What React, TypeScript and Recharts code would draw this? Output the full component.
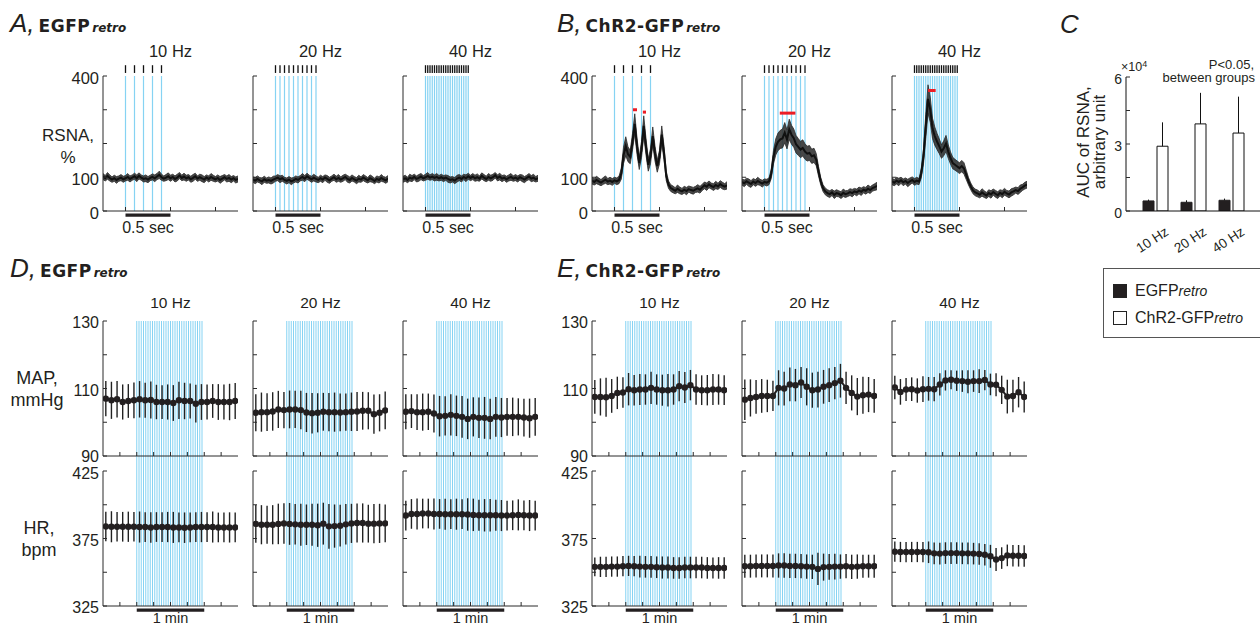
import React from 'react'
import { ComposedChart, BarChart, Bar, Line, Area, XAxis, YAxis, ReferenceLine, ErrorBar } from 'recharts'

const FONT = '"Liberation Sans", Arial, Helvetica, sans-serif'
const HEAD_FONT = '"DejaVu Sans", Verdana, sans-serif'
const INK = '#231f20'
const AXIS = '#2b2b2b'
const BLUE = '#86d3f3'
const RED = '#ec1c24'

const FREQS = ['10 Hz', '20 Hz', '40 Hz']
const GROUPS = ['EGFP', 'ChR2-GFP']

// ---- RSNA (A, B): time in s, values in % of baseline ----
const T_RSNA = [-0.25, -0.225, -0.2, -0.175, -0.15, -0.125, -0.1, -0.075, -0.05, -0.025, 0, 0.025, 0.05, 0.075, 0.1, 0.125, 0.15, 0.175, 0.2, 0.225, 0.25, 0.275, 0.3, 0.325, 0.35, 0.375, 0.4, 0.425, 0.45, 0.475, 0.5, 0.525, 0.55, 0.575, 0.6, 0.625, 0.65, 0.675, 0.7, 0.725, 0.75, 0.775, 0.8, 0.825, 0.85, 0.875, 0.9, 0.925, 0.95, 0.975, 1, 1.025, 1.05, 1.075, 1.1, 1.125, 1.15, 1.175, 1.2, 1.225, 1.25]

const PULSES_10 = [0, 0.1, 0.2, 0.3, 0.4]
const PULSES_20 = [0, 0.05, 0.1, 0.15, 0.2, 0.25, 0.3, 0.35, 0.4, 0.45]
const PULSES_40 = [0, 0.025, 0.05, 0.075, 0.1, 0.125, 0.15, 0.175, 0.2, 0.225, 0.25, 0.275, 0.3, 0.325, 0.35, 0.375, 0.4, 0.425, 0.45, 0.475]

const A_RSNA_10 = [102, 97, 104, 98, 93, 97, 92, 96, 99, 94, 97, 101, 95, 99, 103, 97, 104, 99, 95, 97, 93, 98, 101, 97, 102, 107, 100, 96, 99, 103, 97, 101, 95, 99, 105, 98, 102, 97, 100, 94, 98, 103, 96, 100, 97, 93, 99, 95, 101, 97, 94, 98, 92, 96, 100, 95, 98, 93, 97, 92, 95]
const A_RSNA_20 = [93, 90, 95, 91, 88, 94, 90, 92, 89, 93, 96, 99, 94, 97, 92, 89, 93, 88, 91, 95, 92, 97, 101, 96, 103, 98, 94, 99, 95, 92, 97, 93, 99, 95, 91, 96, 100, 94, 98, 93, 97, 101, 95, 92, 98, 94, 90, 96, 93, 99, 95, 91, 97, 94, 89, 95, 92, 98, 94, 91, 96]
const A_RSNA_40 = [94, 97, 92, 99, 96, 101, 95, 98, 102, 97, 100, 104, 99, 102, 98, 101, 97, 100, 96, 99, 95, 92, 94, 90, 96, 99, 95, 101, 97, 103, 98, 102, 97, 100, 96, 104, 99, 95, 101, 97, 100, 106, 98, 102, 96, 99, 94, 98, 101, 96, 99, 95, 100, 97, 93, 98, 102, 96, 99, 94, 97]
const A_SEM_10 = [9, 8, 10, 9, 8, 9, 10, 8, 9, 9, 8, 10, 9, 8, 9, 10, 9, 8, 9, 10, 9, 8, 9, 10, 9, 11, 9, 8, 9, 10, 9, 8, 9, 10, 9, 8, 10, 9, 8, 9, 10, 9, 8, 9, 10, 9, 8, 9, 10, 9, 8, 9, 10, 9, 8, 9, 10, 9, 8, 9, 9]
const A_SEM_20 = [8, 9, 9, 8, 10, 9, 8, 9, 9, 10, 8, 9, 10, 9, 8, 9, 9, 10, 8, 9, 9, 8, 10, 9, 9, 8, 9, 10, 9, 8, 9, 9, 8, 10, 9, 8, 9, 9, 10, 8, 9, 8, 10, 9, 9, 8, 9, 10, 8, 9, 9, 8, 10, 9, 8, 9, 9, 10, 8, 9, 9]
const A_SEM_40 = [9, 9, 8, 10, 9, 8, 9, 10, 9, 8, 9, 10, 8, 9, 9, 10, 8, 9, 9, 8, 10, 9, 8, 9, 10, 9, 9, 8, 10, 9, 8, 9, 9, 10, 8, 9, 9, 8, 10, 9, 9, 8, 9, 10, 9, 8, 9, 9, 10, 8, 9, 9, 8, 10, 9, 8, 9, 9, 10, 8, 9]

const B_RSNA_10 = [90, 86, 92, 88, 84, 89, 93, 87, 90, 86, 91, 88, 92, 110, 165, 192, 168, 160, 205, 258, 192, 142, 182, 252, 190, 137, 162, 222, 170, 133, 160, 226, 172, 104, 78, 68, 64, 60, 66, 61, 58, 63, 59, 65, 62, 60, 64, 67, 63, 70, 76, 72, 79, 74, 71, 77, 73, 80, 75, 72, 76]
const B_RSNA_20 = [86, 82, 88, 84, 80, 87, 83, 89, 85, 81, 86, 84, 88, 110, 160, 190, 205, 212, 215, 232, 212, 242, 226, 216, 198, 190, 182, 187, 176, 170, 172, 162, 165, 152, 118, 88, 68, 58, 53, 50, 55, 48, 53, 51, 47, 54, 50, 52, 56, 53, 58, 55, 61, 57, 63, 60, 66, 62, 68, 71, 74]
const B_RSNA_40 = [88, 84, 90, 86, 91, 85, 89, 83, 88, 92, 86, 90, 87, 112, 162, 250, 332, 300, 245, 222, 206, 192, 176, 186, 200, 176, 157, 142, 137, 132, 127, 133, 126, 107, 88, 73, 61, 55, 52, 48, 55, 50, 46, 53, 49, 56, 51, 47, 54, 50, 57, 52, 49, 55, 58, 62, 59, 66, 70, 75, 78]
const B_SEM_10 = [10, 9, 11, 10, 9, 10, 11, 9, 10, 10, 9, 10, 11, 16, 24, 28, 22, 20, 24, 30, 24, 19, 24, 30, 24, 19, 22, 27, 22, 18, 20, 26, 20, 14, 11, 10, 10, 9, 11, 10, 9, 10, 11, 9, 10, 10, 9, 11, 10, 9, 10, 11, 10, 9, 10, 11, 9, 10, 10, 9, 11]
const B_SEM_20 = [9, 10, 9, 11, 10, 9, 10, 11, 9, 10, 9, 10, 10, 14, 20, 24, 26, 27, 28, 30, 28, 30, 28, 27, 26, 25, 24, 24, 23, 22, 22, 21, 21, 18, 14, 11, 10, 10, 10, 10, 9, 11, 10, 9, 10, 11, 10, 9, 10, 11, 9, 10, 10, 11, 9, 10, 11, 10, 9, 10, 11]
const B_SEM_40 = [10, 9, 10, 11, 9, 10, 9, 11, 10, 9, 10, 10, 9, 14, 22, 36, 42, 37, 30, 27, 24, 22, 20, 22, 24, 20, 18, 17, 16, 16, 16, 17, 17, 14, 11, 10, 10, 10, 10, 9, 11, 10, 9, 10, 11, 9, 10, 10, 9, 11, 10, 9, 10, 11, 10, 9, 10, 11, 9, 10, 10]

// significant bins (red marks) in B: [start s, end s, level %]
const B_SIG_10 = [[0.205, 0.25, 300], [0.315, 0.35, 293]]
const B_SIG_20 = [[0.17, 0.343, 290]]
const B_SIG_40 = [[0.15, 0.235, 357]]

// ---- AUC (C), arbitrary unit ----
const AUC_EGFP = [4500, 3900, 4800]
const AUC_EGFP_SEM = [600, 900, 750]
const AUC_CHR2 = [29000, 39000, 34900]
const AUC_CHR2_SEM = [10700, 13900, 16300]

// ---- MAP / HR (D, E): 5 s bins, time in s ----
const T_BIN = [-27.5, -22.5, -17.5, -12.5, -7.5, -2.5, 2.5, 7.5, 12.5, 17.5, 22.5, 27.5, 32.5, 37.5, 42.5, 47.5, 52.5, 57.5, 62.5, 67.5, 72.5, 77.5, 82.5, 87.5]
const TRAINS = [0, 2, 4, 6, 8, 10, 12, 14, 16, 18, 20, 22, 24, 26, 28, 30, 32, 34, 36, 38, 40, 42, 44, 46, 48, 50, 52, 54, 56, 58]

const D_MAP_10 = [107, 106.5, 106.8, 106, 106.3, 106.5, 106.8, 106.5, 106.6, 106, 106, 106, 105.7, 106.5, 106.3, 106.3, 105.5, 106, 106, 106.3, 106, 106, 106, 106.3]
const D_MAP_20 = [102.8, 103, 103, 103.2, 103.8, 103.6, 103.8, 103.8, 103.6, 102.9, 102.7, 102.8, 103.1, 103, 103, 102.9, 103, 103.1, 103.2, 103.4, 103.4, 102.4, 102.8, 103.5]
const D_MAP_40 = [103.1, 103.3, 103, 103, 103.1, 102.6, 101.8, 101.9, 102.2, 101.9, 101.6, 101, 101.6, 101.3, 101.3, 101, 101.6, 101.4, 101.6, 101.6, 101.6, 101.4, 101.2, 101.6]
const D_MAP_ERR_10 = [5.2, 5.5, 5.4, 5.2, 5, 5.3, 5.4, 5.2, 5.5, 5.1, 5, 5.2, 5.3, 5.5, 5.4, 5.2, 5.6, 5.3, 5.2, 5, 5.3, 5.2, 5.4, 5.3]
const D_MAP_ERR_20 = [5.5, 5.8, 5.6, 5.7, 5.5, 5.4, 5.6, 5.5, 5.7, 5.8, 6, 5.8, 5.6, 5.7, 5.8, 5.6, 5.5, 5.7, 5.8, 5.6, 5.5, 5.8, 5.5, 5.6]
const D_MAP_ERR_40 = [5.2, 5, 5.3, 5.5, 5.4, 5.6, 6, 5.8, 6.1, 6, 6.2, 6, 5.8, 6, 6.2, 6, 5.9, 5.8, 5.6, 5.7, 5.5, 5.6, 5.8, 5.6]
const D_HR_10 = [383.9, 383.7, 383.7, 383.7, 383.7, 383.7, 383.5, 383.5, 383.2, 383.5, 383.5, 383.5, 383.2, 383.2, 383, 383.2, 383.5, 383.5, 383.5, 383.5, 383.2, 383.2, 383.2, 383.2]
const D_HR_20 = [385.8, 385.2, 385.2, 385.2, 385.8, 386.2, 385.8, 385.5, 385.2, 385.2, 385.2, 384.8, 386, 384, 384.2, 384.5, 385.5, 386.2, 386.5, 386.5, 386, 386, 386.2, 386.2]
const D_HR_40 = [392, 393.2, 393.2, 393.5, 393.5, 393.2, 393.2, 393, 393, 393, 393, 392.8, 392.5, 392.2, 392.2, 392.2, 392.2, 392, 392, 392.2, 392.5, 392.2, 392, 392]
const D_HR_ERR_10 = [11, 11.5, 11, 11, 11.2, 11, 11.5, 11, 11.3, 11, 11, 11.2, 11.5, 11, 11.3, 11, 11, 11.2, 11, 11.5, 11, 11, 11.2, 11]
const D_HR_ERR_20 = [14, 14.5, 14, 14.5, 15, 15, 15.5, 15, 15.5, 15, 15.5, 16, 15.5, 16.5, 16, 15.5, 15, 14.5, 14.5, 14.5, 14, 14.5, 14.5, 14]
const D_HR_ERR_40 = [11, 11, 11.5, 11, 11, 11.5, 11, 11.5, 11, 11.5, 11, 12, 12, 11.5, 12, 12, 11.5, 11.5, 11, 11, 11.5, 11, 11.5, 11]

const E_MAP_10 = [107.5, 107.5, 107.4, 107.8, 108.7, 108.8, 109.8, 109.5, 109.7, 109.7, 110.2, 109.7, 109.5, 109.5, 109.7, 110.7, 110.3, 111, 109.7, 109.5, 109.5, 109.7, 109.7, 109.5]
const E_MAP_20 = [106.7, 107.2, 107.5, 107.8, 107.8, 107.8, 110.2, 110, 111.2, 111, 111.8, 110.5, 109.5, 109.7, 110.5, 111, 111.6, 112.3, 110.2, 108.7, 107.6, 108, 108.2, 107.8]
const E_MAP_40 = [110.3, 109, 109.7, 109.8, 109.4, 109.8, 109.9, 109.8, 111.2, 112.4, 112.6, 112.3, 112.2, 112, 112.2, 112.2, 112.5, 111.2, 111.1, 109.6, 107.6, 107.8, 108.9, 107.5]
const E_MAP_ERR_10 = [5, 5.5, 5.8, 5, 4.8, 4.5, 4.8, 4.5, 4.6, 4.5, 4.8, 4.5, 4.6, 4.8, 4.5, 4.5, 4.6, 4.5, 4.5, 4.4, 4.5, 4.6, 4.5, 4.4]
const E_MAP_ERR_20 = [6, 5.5, 5, 5, 4.8, 4.5, 5.2, 5, 5, 4.8, 4.6, 5.5, 5.2, 5.3, 5, 5, 4.8, 5, 4.8, 5.2, 5.5, 5.5, 5.2, 5]
const E_MAP_ERR_40 = [3.5, 3.8, 3.4, 3.5, 3.6, 3.8, 3.5, 3.6, 3.3, 3, 2.8, 3, 3.2, 3.4, 3.2, 3.5, 3, 3.2, 3.4, 4.2, 5, 4.8, 4.5, 4.6]
const E_HR_10 = [354, 354, 354, 354.2, 354.2, 354.5, 354.7, 354.5, 354.2, 354, 354, 353.7, 353.5, 353.5, 353.2, 353.2, 353.5, 353.5, 353.5, 353.5, 353.2, 353.2, 353.2, 353.2]
const E_HR_20 = [354.5, 354.5, 354.7, 354.7, 354.7, 354.7, 355, 355, 354.7, 354.7, 354.5, 354.2, 354, 352.5, 353.8, 354, 354.2, 354.2, 354.5, 354, 354.2, 354.5, 354.5, 354.5]
const E_HR_40 = [365.2, 365, 365, 365, 365, 365, 364.8, 364, 363.8, 364.2, 364.2, 364.2, 364, 364, 363.8, 363.5, 363, 361.8, 359.5, 360.5, 362.5, 362.2, 362.2, 362]
const E_HR_ERR_10 = [7, 7.5, 7.5, 7.5, 7.5, 7.5, 7.5, 7.5, 8, 8, 8, 8, 8.2, 8.2, 8, 8, 8, 8, 8, 8, 8, 7.8, 8, 8]
const E_HR_ERR_20 = [8.5, 8.5, 8.5, 8.5, 8.5, 8.5, 9, 9, 9, 9, 9, 9, 9, 12, 10, 9.5, 9.5, 9, 9, 9, 9, 8.5, 8.5, 8.5]
const E_HR_ERR_40 = [7.5, 7.5, 7.5, 7.5, 7.5, 7.5, 8, 8, 8, 8, 8, 8, 8, 8, 8, 8, 8, 8.5, 8.5, 8, 8, 8, 8, 8]

// axis ticks
const RSNA_TICKS = [0, 100, 200, 300, 400]
const RSNA_LABELS = [0, 100, 400]
const SEC_TICKS = [0, 0.5, 1]
const MAP_TICKS = [90, 100, 110, 120, 130]
const MAP_LABELS = [90, 110, 130]
const HR_TICKS = [325, 350, 375, 400, 425]
const HR_LABELS = [325, 375, 425]
const MIN_TICKS = [-15, 0, 15, 30, 45, 60, 75]
const AUC_TICKS = [0, 15000, 30000, 45000, 60000]
const AUC_LABELS = [0, 30000, 60000]

// layout
const PAD_L = 40
const PAD_R = 6
const PW = 135
const PH = 135
const COL_L = [103, 253, 403]
const COL_R = [592, 742, 892]
const ROW_TOP = 76
const ROW_MAP = 321
const ROW_HR = 471

// axes are given 1px of room: recharts skips drawing an axis of zero size
function makeYTick(labels: number[], fmt: (v: number) => string = v => String(v), size = 16.5, nudge: Record<number, number> = {}) {
  return (p: any) => {
    const { x, y, payload } = p
    const dy = 1.5 + (nudge[payload.value] ?? 0)
    return (
      <g>
        <line x1={x} x2={x + 4} y1={y} y2={y} stroke={AXIS} strokeWidth={1} />
        {labels.includes(payload.value) && (
          <text x={x - 4} y={y + dy} textAnchor="end" dominantBaseline="central" fontSize={size} fontFamily={FONT} fill={INK}>
            {fmt(payload.value)}
          </text>
        )}
      </g>
    )
  }
}

function XTick(p: any) {
  const { x, y } = p
  return <line x1={x} x2={x} y1={y} y2={y - 4} stroke={AXIS} strokeWidth={1} />
}

function Txt({ x, y, size = 16, align = 'center', style, children }: any) {
  const tx = align === 'center' ? '-50%' : align === 'right' ? '-100%' : '0'
  return (
    <div style={{ position: 'absolute', left: x, top: y, transform: `translate(${tx}, -50%)`, fontSize: size, lineHeight: 1, whiteSpace: 'nowrap', ...style }}>
      {children}
    </div>
  )
}

function Heading({ x, y, letter, name }: { x: number; y: number; letter: string; name?: string }) {
  return (
    <div style={{ position: 'absolute', left: x, top: y, lineHeight: 1, whiteSpace: 'nowrap', color: INK }}>
      <span style={{ fontFamily: FONT, fontStyle: 'italic', fontSize: 26 }}>{letter}{name ? ',' : ''}</span>
      {name && <span style={{ fontFamily: HEAD_FONT, fontWeight: 700, fontSize: 17, marginLeft: 4, letterSpacing: 0.5 }}>{name}</span>}
      {name && <span style={{ fontFamily: HEAD_FONT, fontWeight: 700, fontStyle: 'italic', fontSize: 12, marginLeft: 2 }}>retro</span>}
    </div>
  )
}

function PulseOverlay({ left, pulses }: { left: number; pulses: number[] }) {
  return (
    <div style={{ position: 'absolute', left: left - PAD_L, top: ROW_TOP - 14 }}>
      <ComposedChart width={PAD_L + PW + PAD_R} height={14 + PH} margin={{ top: 14, right: PAD_R, bottom: 0, left: PAD_L }} data={pulses.map(t => ({ t, v: 0 }))}>
        <XAxis type="number" dataKey="t" domain={[-0.25, 1.25]} allowDataOverflow hide />
        <YAxis type="number" domain={[0, 400]} allowDataOverflow hide />
        <Line dataKey="v" stroke="none" dot={false} isAnimationActive={false} />
        {pulses.map(s => (
          <ReferenceLine key={'b' + s} x={s} stroke={BLUE} strokeWidth={1.2} />
        ))}
        {pulses.map(s => (
          <ReferenceLine key={'k' + s} segment={[{ x: s, y: 409 }, { x: s, y: 432 }]} ifOverflow="visible" stroke="#111" strokeWidth={1.3} />
        ))}
      </ComposedChart>
    </div>
  )
}

function RsnaTrace({ left, mean, sem, sig, labels }: { left: number; mean: number[]; sem: number[]; sig: number[][]; labels: boolean }) {
  const data = T_RSNA.map((t, i) => ({ t, m: mean[i], band: [mean[i] - sem[i], mean[i] + sem[i]] }))
  return (
    <div style={{ position: 'absolute', left: left - PAD_L, top: ROW_TOP - 6 }}>
      <ComposedChart width={PAD_L + PW + PAD_R} height={6 + PH + 30} margin={{ top: 6, right: PAD_R, bottom: 29, left: PAD_L - 1 }} data={data}>
        <XAxis type="number" dataKey="t" domain={[-0.25, 1.25]} ticks={SEC_TICKS} interval={0} height={1} tickLine={false} tickSize={0} tickMargin={0} stroke={AXIS} tick={XTick} allowDataOverflow />
        <YAxis type="number" domain={[0, 400]} ticks={RSNA_TICKS} interval={0} width={1} tickLine={false} tickSize={0} tickMargin={0} stroke={AXIS} allowDataOverflow tick={makeYTick(labels ? RSNA_LABELS : [])} />
        <Area type="linear" dataKey="band" stroke="#2a2a2a" strokeWidth={0.8} fill="#333" fillOpacity={0.9} isAnimationActive={false} />
        <Line type="linear" dataKey="m" stroke="#111" strokeWidth={2} dot={false} isAnimationActive={false} />
        {sig.map(([a, b, lv]) => (
          <ReferenceLine key={a} segment={[{ x: a, y: lv }, { x: b, y: lv }]} ifOverflow="visible" stroke={RED} strokeWidth={3} />
        ))}
        <ReferenceLine
          segment={[{ x: 0, y: -12 }, { x: 0.5, y: -12 }]}
          ifOverflow="visible"
          stroke={INK}
          strokeWidth={3.2}
          label={{ value: '0.5 sec', position: 'bottom', offset: 7, fontSize: 16, fill: INK, fontFamily: FONT }}
        />
      </ComposedChart>
    </div>
  )
}

function TrainOverlay({ left }: { left: number }) {
  const h = ROW_HR + PH - ROW_MAP
  return (
    <div style={{ position: 'absolute', left: left - PAD_L, top: ROW_MAP }}>
      <ComposedChart width={PAD_L + PW + PAD_R} height={h} margin={{ top: 0, right: PAD_R, bottom: 0, left: PAD_L }} data={TRAINS.map(t => ({ t, v: 0 }))}>
        <XAxis type="number" dataKey="t" domain={[-30, 90]} allowDataOverflow hide />
        <YAxis type="number" domain={[0, 1]} allowDataOverflow hide />
        <Line dataKey="v" stroke="none" dot={false} isAnimationActive={false} />
        {TRAINS.map(s => (
          <ReferenceLine key={s} x={s} stroke={BLUE} strokeWidth={1} />
        ))}
      </ComposedChart>
    </div>
  )
}

function BinChart({ left, top, mean, err, domain, ticks, labels, showLabels, bar, nudge }: any) {
  const data = T_BIN.map((t, i) => ({ t, m: mean[i], e: err[i] }))
  const bottom = bar ? 20 : 13
  return (
    <div style={{ position: 'absolute', left: left - PAD_L, top: top - 10 }}>
      <ComposedChart width={PAD_L + PW + PAD_R} height={10 + PH + bottom + 1} margin={{ top: 10, right: PAD_R, bottom, left: PAD_L - 1 }} data={data}>
        <XAxis type="number" dataKey="t" domain={[-30, 90]} ticks={MIN_TICKS} interval={0} height={1} tickLine={false} tickSize={0} tickMargin={0} stroke={AXIS} tick={XTick} allowDataOverflow />
        <YAxis type="number" domain={domain} ticks={ticks} interval={0} width={1} tickLine={false} tickSize={0} tickMargin={0} stroke={AXIS} allowDataOverflow tick={makeYTick(showLabels ? labels : [], undefined, 16, nudge)} />
        <Line type="linear" dataKey="m" stroke={INK} strokeWidth={2} dot={{ r: 3.2, fill: INK, stroke: INK, strokeWidth: 0 }} isAnimationActive={false}>
          <ErrorBar dataKey="e" width={0} stroke="#222" strokeWidth={1.4} direction="y" isAnimationActive={false} />
        </Line>
        {bar && (
          <ReferenceLine
            segment={[{ x: 0, y: 322 }, { x: 60, y: 322 }]}
            ifOverflow="visible"
            stroke={INK}
            strokeWidth={3.2}
            label={{ value: '1 min', position: 'bottom', offset: 3, fontSize: 14.5, fill: INK, fontFamily: FONT }}
          />
        )}
      </ComposedChart>
    </div>
  )
}

function AucTick(p: any) {
  const { x, y, payload } = p
  const px = x + 14.5
  const py = y + 23
  return (
    <text x={px} y={py} transform={`rotate(-33, ${px}, ${py})`} textAnchor="end" fontSize={13.5} fontFamily={FONT} fill={INK}>
      {payload.value}
    </text>
  )
}

function AucChart() {
  const data = FREQS.map((f, i) => ({
    f,
    egfp: AUC_EGFP[i],
    egfpErr: [0, AUC_EGFP_SEM[i]],
    chr2: AUC_CHR2[i],
    chr2Err: [0, AUC_CHR2_SEM[i]],
  }))
  return (
    <div style={{ position: 'absolute', left: 1126 - 30, top: 77 - 10 }}>
      <BarChart width={164} height={10 + 134 + 45} margin={{ top: 10, right: 0, bottom: 44, left: 29 }} data={data} barSize={11} barGap={3}>
        <XAxis dataKey="f" height={1} padding={{ left: 10, right: 10 }} tickLine={false} tickSize={0} tickMargin={0} interval={0} stroke="#111" tick={AucTick} />
        <YAxis type="number" domain={[0, 60000]} ticks={AUC_TICKS} interval={0} width={1} tickLine={false} tickSize={0} tickMargin={0} stroke="#111" allowDataOverflow tick={makeYTick(AUC_LABELS, v => String(v / 10000), 14)} />
        <Bar dataKey="egfp" name={GROUPS[0]} fill={INK} stroke={INK} strokeWidth={1} isAnimationActive={false}>
          <ErrorBar dataKey="egfpErr" width={0} stroke="#111" strokeWidth={1} isAnimationActive={false} />
        </Bar>
        <Bar dataKey="chr2" name={GROUPS[1]} fill="#fff" stroke="#111" strokeWidth={1} isAnimationActive={false}>
          <ErrorBar dataKey="chr2Err" width={0} stroke="#111" strokeWidth={1} isAnimationActive={false} />
        </Bar>
      </BarChart>
    </div>
  )
}

const RSNA_A = [
  { mean: A_RSNA_10, sem: A_SEM_10, pulses: PULSES_10 },
  { mean: A_RSNA_20, sem: A_SEM_20, pulses: PULSES_20 },
  { mean: A_RSNA_40, sem: A_SEM_40, pulses: PULSES_40 },
]
const RSNA_B = [
  { mean: B_RSNA_10, sem: B_SEM_10, pulses: PULSES_10, sig: B_SIG_10 },
  { mean: B_RSNA_20, sem: B_SEM_20, pulses: PULSES_20, sig: B_SIG_20 },
  { mean: B_RSNA_40, sem: B_SEM_40, pulses: PULSES_40, sig: B_SIG_40 },
]
const HEMO_D = [
  { map: D_MAP_10, mapErr: D_MAP_ERR_10, hr: D_HR_10, hrErr: D_HR_ERR_10 },
  { map: D_MAP_20, mapErr: D_MAP_ERR_20, hr: D_HR_20, hrErr: D_HR_ERR_20 },
  { map: D_MAP_40, mapErr: D_MAP_ERR_40, hr: D_HR_40, hrErr: D_HR_ERR_40 },
]
const HEMO_E = [
  { map: E_MAP_10, mapErr: E_MAP_ERR_10, hr: E_HR_10, hrErr: E_HR_ERR_10 },
  { map: E_MAP_20, mapErr: E_MAP_ERR_20, hr: E_HR_20, hrErr: E_HR_ERR_20 },
  { map: E_MAP_40, mapErr: E_MAP_ERR_40, hr: E_HR_40, hrErr: E_HR_ERR_40 },
]

function HemoPanel({ cols, rows }: { cols: number[]; rows: typeof HEMO_D }) {
  return (
    <>
      {cols.map((l, i) => <TrainOverlay key={'o' + i} left={l} />)}
      {cols.map((l, i) => (
        <BinChart key={'m' + i} left={l} top={ROW_MAP} mean={rows[i].map} err={rows[i].mapErr} domain={[90, 130]} ticks={MAP_TICKS} labels={MAP_LABELS} showLabels={i === 0} nudge={{ 90: -1.5 }} />
      ))}
      {cols.map((l, i) => (
        <BinChart key={'h' + i} left={l} top={ROW_HR} mean={rows[i].hr} err={rows[i].hrErr} domain={[325, 425]} ticks={HR_TICKS} labels={HR_LABELS} showLabels={i === 0} nudge={{ 425: 1 }} bar />
      ))}
      {cols.map((l, i) => (
        <Txt key={'t' + i} x={l + PW / 2} y={303} size={15.5}>{FREQS[i]}</Txt>
      ))}
    </>
  )
}

export default function App() {
  return (
    <div style={{ position: 'absolute', left: 0, top: 0, width: 1260, height: 627, overflow: 'hidden', background: '#fff', fontFamily: FONT, color: INK }}>
      <Heading x={10} y={10} letter="A" name={GROUPS[0]} />
      <Heading x={557} y={10} letter="B" name={GROUPS[1]} />
      <Heading x={1060} y={11} letter="C" />
      <Heading x={10} y={255} letter="D" name={GROUPS[0]} />
      <Heading x={557} y={255} letter="E" name={GROUPS[1]} />

      {/* A / B: RSNA */}
      {COL_L.map((l, i) => <PulseOverlay key={'pa' + i} left={l} pulses={RSNA_A[i].pulses} />)}
      {COL_R.map((l, i) => <PulseOverlay key={'pb' + i} left={l} pulses={RSNA_B[i].pulses} />)}
      {COL_L.map((l, i) => <RsnaTrace key={'ta' + i} left={l} mean={RSNA_A[i].mean} sem={RSNA_A[i].sem} sig={[]} labels={i === 0} />)}
      {COL_R.map((l, i) => <RsnaTrace key={'tb' + i} left={l} mean={RSNA_B[i].mean} sem={RSNA_B[i].sem} sig={RSNA_B[i].sig} labels={i === 0} />)}
      {[...COL_L, ...COL_R].map((l, i) => (
        <Txt key={'ft' + i} x={l + PW / 2} y={51} size={16.5}>{FREQS[i % 3]}</Txt>
      ))}
      <Txt x={68} y={135} size={17}>RSNA,</Txt>
      <Txt x={68} y={157} size={17}>%</Txt>

      {/* C: AUC */}
      <AucChart />
      <Txt x={1121} y={67} size={12.5} align="left">×10<sup style={{ fontSize: 9, verticalAlign: 4 }}>4</sup></Txt>
      <Txt x={1254} y={64} size={13} align="right">P&lt;0.05,</Txt>
      <Txt x={1255} y={77} size={13} align="right">between groups</Txt>
      <div style={{ position: 'absolute', left: 1083, top: 142, transform: 'translate(-50%, -50%) rotate(-90deg)', fontSize: 17, lineHeight: 1, whiteSpace: 'nowrap' }}>AUC of RSNA,</div>
      <div style={{ position: 'absolute', left: 1099, top: 142, transform: 'translate(-50%, -50%) rotate(-90deg)', fontSize: 17, lineHeight: 1, whiteSpace: 'nowrap' }}>arbitrary unit</div>

      {/* legend */}
      <div style={{ position: 'absolute', left: 1103, top: 268, width: 180, height: 70, border: '1px solid #555', boxSizing: 'border-box' }} />
      {GROUPS.map((g, i) => (
        <React.Fragment key={g}>
          <div style={{ position: 'absolute', left: 1113, top: 284 + i * 27, width: 14, height: 14, boxSizing: 'border-box', border: '1px solid #222', background: i === 0 ? INK : '#fff' }} />
          <Txt x={1135} y={291 + i * 27} size={16} align="left">
            {g}<span style={{ fontStyle: 'italic', fontSize: 14 }}>retro</span>
          </Txt>
        </React.Fragment>
      ))}

      {/* D / E: MAP and HR */}
      <HemoPanel cols={COL_L} rows={HEMO_D} />
      <HemoPanel cols={COL_R} rows={HEMO_E} />
      <Txt x={37} y={378} size={18}>MAP,</Txt>
      <Txt x={37} y={400} size={18}>mmHg</Txt>
      <Txt x={39} y={528} size={18}>HR,</Txt>
      <Txt x={39} y={550} size={18}>bpm</Txt>
    </div>
  )
}
